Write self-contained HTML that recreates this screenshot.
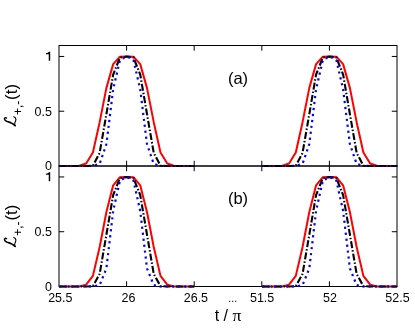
<!DOCTYPE html><html><head><meta charset="utf-8"><style>html,body{margin:0;padding:0;background:#fff}svg{display:block;will-change:transform}</style></head><body><svg width="415" height="333" viewBox="0 0 415 333">
<rect width="415" height="333" fill="#fff"/>
<g stroke="#000" stroke-width="1" fill="none">
<rect x="59" y="45.5" width="338" height="120.5"/>
<line x1="126.60" y1="45.5" x2="126.60" y2="50.7"/>
<line x1="126.60" y1="166" x2="126.60" y2="160.8"/>
<line x1="194.20" y1="45.5" x2="194.20" y2="50.7"/>
<line x1="194.20" y1="166" x2="194.20" y2="160.8"/>
<line x1="261.80" y1="45.5" x2="261.80" y2="50.7"/>
<line x1="261.80" y1="166" x2="261.80" y2="160.8"/>
<line x1="329.40" y1="45.5" x2="329.40" y2="50.7"/>
<line x1="329.40" y1="166" x2="329.40" y2="160.8"/>
<line x1="59" y1="111.23" x2="64.2" y2="111.23"/>
<line x1="397" y1="111.23" x2="391.8" y2="111.23"/>
<line x1="59" y1="56.45" x2="64.2" y2="56.45"/>
<line x1="397" y1="56.45" x2="391.8" y2="56.45"/>
</g>
<path d="M59.10,166.00 L65.86,166.00 L72.62,166.00 L79.38,165.78 L86.14,163.48 L92.90,152.53 L99.66,122.18 L106.42,87.89 L113.18,64.12 L119.94,56.67 L126.70,56.45 L133.46,56.67 L140.22,64.12 L146.98,87.89 L153.74,122.18 L160.50,152.53 L167.26,163.48 L174.02,165.78 L180.78,166.00 L187.54,166.00 L194.30,166.00" stroke="#ff0000" stroke-width="2" fill="none" stroke-linejoin="round"/>
<path d="M59.10,166.00 L65.86,166.00 L72.62,166.00 L79.38,166.00 L86.14,166.00 L92.90,165.67 L99.66,152.85 L106.42,113.97 L113.18,74.53 L119.94,57.55 L126.70,56.45 L133.46,57.55 L140.22,74.53 L146.98,113.97 L153.74,152.85 L160.50,165.67 L167.26,166.00 L174.02,166.00 L180.78,166.00 L187.54,166.00 L194.30,166.00" stroke="#000" stroke-width="2.1" fill="none" stroke-dasharray="7 2 1.5 2"/>
<path d="M59.10,166.00 L65.86,166.00 L72.62,166.00 L79.38,166.00 L86.14,166.00 L92.90,166.00 L99.66,163.81 L106.42,144.09 L113.18,89.32 L119.94,60.07 L126.70,56.45 L133.46,60.07 L140.22,89.32 L146.98,144.09 L153.74,163.81 L160.50,166.00 L167.26,166.00 L174.02,166.00 L180.78,166.00 L187.54,166.00 L194.30,166.00" stroke="#0000ff" stroke-width="2.2" fill="none" stroke-dasharray="2.2 3.8"/>
<path d="M262.00,166.00 L268.76,166.00 L275.52,166.00 L282.28,165.78 L289.04,163.48 L295.80,152.53 L302.56,122.18 L309.32,87.89 L316.08,64.12 L322.84,56.67 L329.60,56.45 L336.36,56.67 L343.12,64.12 L349.88,87.89 L356.64,122.18 L363.40,152.53 L370.16,163.48 L376.92,165.78 L383.68,166.00 L390.44,166.00 L397.20,166.00" stroke="#ff0000" stroke-width="2" fill="none" stroke-linejoin="round"/>
<path d="M262.00,166.00 L268.76,166.00 L275.52,166.00 L282.28,166.00 L289.04,166.00 L295.80,165.67 L302.56,152.85 L309.32,113.97 L316.08,74.53 L322.84,57.55 L329.60,56.45 L336.36,57.55 L343.12,74.53 L349.88,113.97 L356.64,152.85 L363.40,165.67 L370.16,166.00 L376.92,166.00 L383.68,166.00 L390.44,166.00 L397.20,166.00" stroke="#000" stroke-width="2.1" fill="none" stroke-dasharray="7 2 1.5 2"/>
<path d="M262.00,166.00 L268.76,166.00 L275.52,166.00 L282.28,166.00 L289.04,166.00 L295.80,166.00 L302.56,163.81 L309.32,144.09 L316.08,89.32 L322.84,60.07 L329.60,56.45 L336.36,60.07 L343.12,89.32 L349.88,144.09 L356.64,163.81 L363.40,166.00 L370.16,166.00 L376.92,166.00 L383.68,166.00 L390.44,166.00 L397.20,166.00" stroke="#0000ff" stroke-width="2.2" fill="none" stroke-dasharray="2.2 3.8"/>
<g stroke="#000" stroke-width="1" fill="none">
<rect x="59" y="166" width="338" height="120.5"/>
<line x1="126.60" y1="166" x2="126.60" y2="171.2"/>
<line x1="126.60" y1="286.5" x2="126.60" y2="281.3"/>
<line x1="194.20" y1="166" x2="194.20" y2="171.2"/>
<line x1="194.20" y1="286.5" x2="194.20" y2="281.3"/>
<line x1="261.80" y1="166" x2="261.80" y2="171.2"/>
<line x1="261.80" y1="286.5" x2="261.80" y2="281.3"/>
<line x1="329.40" y1="166" x2="329.40" y2="171.2"/>
<line x1="329.40" y1="286.5" x2="329.40" y2="281.3"/>
<line x1="59" y1="231.73" x2="64.2" y2="231.73"/>
<line x1="397" y1="231.73" x2="391.8" y2="231.73"/>
<line x1="59" y1="176.95" x2="64.2" y2="176.95"/>
<line x1="397" y1="176.95" x2="391.8" y2="176.95"/>
</g>
<path d="M59.10,286.50 L65.86,286.50 L72.62,286.50 L79.38,286.39 L86.14,284.64 L92.90,275.87 L99.66,247.06 L106.42,212.01 L113.18,185.28 L119.94,177.17 L126.70,176.95 L133.46,177.17 L140.22,185.28 L146.98,212.01 L153.74,247.06 L160.50,275.87 L167.26,284.64 L174.02,286.39 L180.78,286.50 L187.54,286.50 L194.30,286.50" stroke="#ff0000" stroke-width="2" fill="none" stroke-linejoin="round"/>
<path d="M59.10,286.50 L65.86,286.50 L72.62,286.50 L79.38,286.50 L86.14,286.50 L92.90,286.17 L99.66,273.90 L106.42,234.47 L113.18,195.03 L119.94,178.05 L126.70,176.95 L133.46,178.05 L140.22,195.03 L146.98,234.47 L153.74,273.90 L160.50,286.17 L167.26,286.50 L174.02,286.50 L180.78,286.50 L187.54,286.50 L194.30,286.50" stroke="#000" stroke-width="2.1" fill="none" stroke-dasharray="7 2 1.5 2"/>
<path d="M59.10,286.50 L65.86,286.50 L72.62,286.50 L79.38,286.50 L86.14,286.50 L92.90,286.50 L99.66,285.08 L106.42,268.43 L113.18,210.91 L119.94,180.57 L126.70,176.95 L133.46,180.57 L140.22,210.91 L146.98,268.43 L153.74,285.08 L160.50,286.50 L167.26,286.50 L174.02,286.50 L180.78,286.50 L187.54,286.50 L194.30,286.50" stroke="#0000ff" stroke-width="2.2" fill="none" stroke-dasharray="2.2 3.8"/>
<path d="M262.00,286.50 L268.76,286.50 L275.52,286.50 L282.28,286.39 L289.04,284.64 L295.80,275.87 L302.56,247.06 L309.32,212.01 L316.08,185.28 L322.84,177.17 L329.60,176.95 L336.36,177.17 L343.12,185.28 L349.88,212.01 L356.64,247.06 L363.40,275.87 L370.16,284.64 L376.92,286.39 L383.68,286.50 L390.44,286.50 L397.20,286.50" stroke="#ff0000" stroke-width="2" fill="none" stroke-linejoin="round"/>
<path d="M262.00,286.50 L268.76,286.50 L275.52,286.50 L282.28,286.50 L289.04,286.50 L295.80,286.17 L302.56,273.90 L309.32,234.47 L316.08,195.03 L322.84,178.05 L329.60,176.95 L336.36,178.05 L343.12,195.03 L349.88,234.47 L356.64,273.90 L363.40,286.17 L370.16,286.50 L376.92,286.50 L383.68,286.50 L390.44,286.50 L397.20,286.50" stroke="#000" stroke-width="2.1" fill="none" stroke-dasharray="7 2 1.5 2"/>
<path d="M262.00,286.50 L268.76,286.50 L275.52,286.50 L282.28,286.50 L289.04,286.50 L295.80,286.50 L302.56,285.08 L309.32,268.43 L316.08,210.91 L322.84,180.57 L329.60,176.95 L336.36,180.57 L343.12,210.91 L349.88,268.43 L356.64,285.08 L363.40,286.50 L370.16,286.50 L376.92,286.50 L383.68,286.50 L390.44,286.50 L397.20,286.50" stroke="#0000ff" stroke-width="2.2" fill="none" stroke-dasharray="2.2 3.8"/>
<g font-family="Liberation Sans, sans-serif" font-size="12.5" fill="#000">
<text transform="translate(60.30,302.30) scale(1,1.06)" text-anchor="middle">25.5</text>
<text transform="translate(128.40,302.30) scale(1,1.06)" text-anchor="middle">26</text>
<text transform="translate(195.90,302.30) scale(1,1.06)" text-anchor="middle">26.5</text>
<text transform="translate(262.10,302.30) scale(1,1.06)" text-anchor="middle">51.5</text>
<text transform="translate(329.90,302.30) scale(1,1.06)" text-anchor="middle">52</text>
<text transform="translate(397.50,302.30) scale(1,1.06)" text-anchor="middle">52.5</text>
<text x="232.7" y="301.5" font-size="10.5" text-anchor="middle">...</text>
<text transform="translate(52.00,170.30) scale(1,1.06)" text-anchor="end">0</text>
<text transform="translate(52.00,115.53) scale(1,1.06)" text-anchor="end">0.5</text>
<path transform="translate(0,60.75)" d="M48.8,-8.9 H50.2 V0 H48.75 V-6.4 H45.9 V-7.4 C47.6,-7.5 48.5,-8.0 48.8,-8.9 Z" fill="#000"/>
<text transform="translate(52.00,290.80) scale(1,1.06)" text-anchor="end">0</text>
<text transform="translate(52.00,236.03) scale(1,1.06)" text-anchor="end">0.5</text>
<path transform="translate(0,181.25)" d="M48.8,-8.9 H50.2 V0 H48.75 V-6.4 H45.9 V-7.4 C47.6,-7.5 48.5,-8.0 48.8,-8.9 Z" fill="#000"/>
</g>
<g font-family="Liberation Sans, sans-serif" font-size="16" fill="#000">
<text x="214.7" y="320.9">t / <tspan font-family="Liberation Serif, serif" font-size="17.5">π</tspan></text>
<text x="238" y="84" font-size="16.5" text-anchor="middle">(a)</text>
<text x="238" y="204" font-size="16.5" text-anchor="middle">(b)</text>
<g transform="translate(16.7,126.7) rotate(-90)">
<path d="M8.7,-10.2 C9.5,-11.4 8.7,-12.4 7.6,-12.2 C6.3,-12 5.6,-10.8 5.2,-9.5 C4.4,-6.5 3.4,-3.6 1.0,-1.5" fill="none" stroke="#000" stroke-width="1.5" stroke-linecap="round" stroke-linejoin="round"/><path d="M1.0,-1.5 C2,-2.4 3,-2.2 4,-1.8 C5.5,-1.2 6.5,-0.7 7.5,-0.8 C8.8,-1 9.6,-1.8 10,-2.9" fill="none" stroke="#000" stroke-width="1.1" stroke-linecap="round" stroke-linejoin="round"/>
<text x="11.6" y="5.4" font-size="12">+,-</text>
<text x="26.8" y="0" font-size="17">(t)</text>
</g>
<g transform="translate(16.7,247.4) rotate(-90)">
<path d="M8.7,-10.2 C9.5,-11.4 8.7,-12.4 7.6,-12.2 C6.3,-12 5.6,-10.8 5.2,-9.5 C4.4,-6.5 3.4,-3.6 1.0,-1.5" fill="none" stroke="#000" stroke-width="1.5" stroke-linecap="round" stroke-linejoin="round"/><path d="M1.0,-1.5 C2,-2.4 3,-2.2 4,-1.8 C5.5,-1.2 6.5,-0.7 7.5,-0.8 C8.8,-1 9.6,-1.8 10,-2.9" fill="none" stroke="#000" stroke-width="1.1" stroke-linecap="round" stroke-linejoin="round"/>
<text x="11.6" y="5.4" font-size="12">+,-</text>
<text x="26.8" y="0" font-size="17">(t)</text>
</g>
</g>
</svg></body></html>
